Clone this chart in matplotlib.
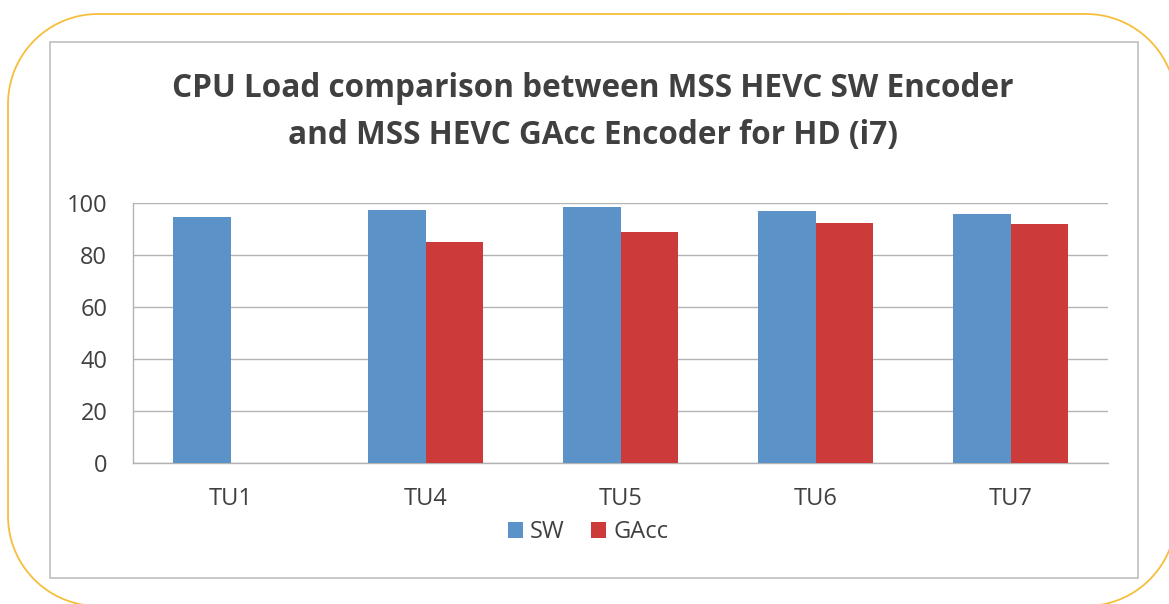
import matplotlib
matplotlib.use("Agg")
import matplotlib.pyplot as plt
from matplotlib.patches import Rectangle
import numpy as np

categories = ["TU1", "TU4", "TU5", "TU6", "TU7"]
sw_values = [94.5, 97.3, 98.2, 96.7, 95.6]
gacc_values = [0, 85.0, 88.7, 92.1, 91.7]
series_names = ["SW", "GAcc"]
y_ticks = [0, 20, 40, 60, 80, 100]
title = "CPU Load comparison between MSS HEVC SW Encoder\nand MSS HEVC GAcc Encoder for HD (i7)"

BLUE = "#5B93C8"
RED = "#CC3A3A"
TXT = "#404040"
GRID = "#B3B3B3"

W, H = 1169, 604
fig = plt.figure(figsize=(W / 100, H / 100), dpi=100)


def rounded_rect(x0, y0, x1, y1, r, n=60):
    """Outline of a rectangle with circular corners (pixel coords, y up)."""
    pts = []
    corners = [(x1 - r, y1 - r, 0), (x0 + r, y1 - r, 90),
               (x0 + r, y0 + r, 180), (x1 - r, y0 + r, 270)]
    for cx, cy, a0 in corners:
        t = np.radians(np.linspace(a0, a0 + 90, n))
        pts.extend(zip(cx + r * np.cos(t), cy + r * np.sin(t)))
    pts.append(pts[0])
    return np.array(pts)


# background decoration axes in pixel coords (y measured from bottom)
bg = fig.add_axes([0, 0, 1, 1])
bg.axis("off")
outline = rounded_rect(8, H - 606, 1176, H - 14, 90)
ox, oy = outline[:, 0].copy(), outline[:, 1].copy()
off = (ox > W + 1) | (oy < -1)
ox[off] = np.nan
oy[off] = np.nan
bg.plot(ox, oy, color="#F6BE3C", linewidth=1.3, solid_capstyle="butt")
bg.add_patch(Rectangle((50, H - 578), 1138 - 50, 578 - 42, fill=False,
                       edgecolor="#BFBFBF", linewidth=1.2))
bg.set_xlim(0, W)
bg.set_ylim(0, H)

ax = fig.add_axes([133 / W, (H - 463) / H, (1108 - 133) / W, (463 - 202.5) / H])
x = np.arange(len(categories))
bw = 0.297
ax.bar(x - bw / 2, sw_values, width=bw, color=BLUE, label=series_names[0], zorder=3)
ax.bar(x + bw / 2, gacc_values, width=bw, color=RED, label=series_names[1], zorder=3)

ax.set_xlim(-0.5, len(categories) - 0.5)
ax.set_ylim(0, 100)
ax.set_yticks(y_ticks)
ax.set_xticks(x)
ax.set_xticklabels(categories)
ax.yaxis.grid(True, color=GRID, linewidth=1.0, zorder=0)
ax.set_axisbelow(True)
for s in ["top", "right"]:
    ax.spines[s].set_visible(False)
for s in ["left", "bottom"]:
    ax.spines[s].set_color(GRID)
    ax.spines[s].set_linewidth(1.0)
ax.tick_params(axis="both", length=0, labelsize=17, labelcolor=TXT)
ax.tick_params(axis="y", pad=18.5)
ax.tick_params(axis="x", pad=17)
for lab in ax.get_xticklabels() + ax.get_yticklabels():
    lab.set_fontfamily("Open Sans")

fig.text(593 / W, 1 - 112 / H, title, ha="center", va="center",
         fontsize=22.7, fontweight="bold", color=TXT, family="Open Sans",
         linespacing=1.55)

leg = fig.legend(loc="center", bbox_to_anchor=(588 / W, 1 - 532 / H), ncol=2,
                 frameon=False, handlelength=0.65, handleheight=0.65,
                 handletextpad=0.3, columnspacing=1.1,
                 prop={"family": "Open Sans", "size": 17})
for t in leg.get_texts():
    t.set_color(TXT)

fig.savefig("out.png", dpi=100)
